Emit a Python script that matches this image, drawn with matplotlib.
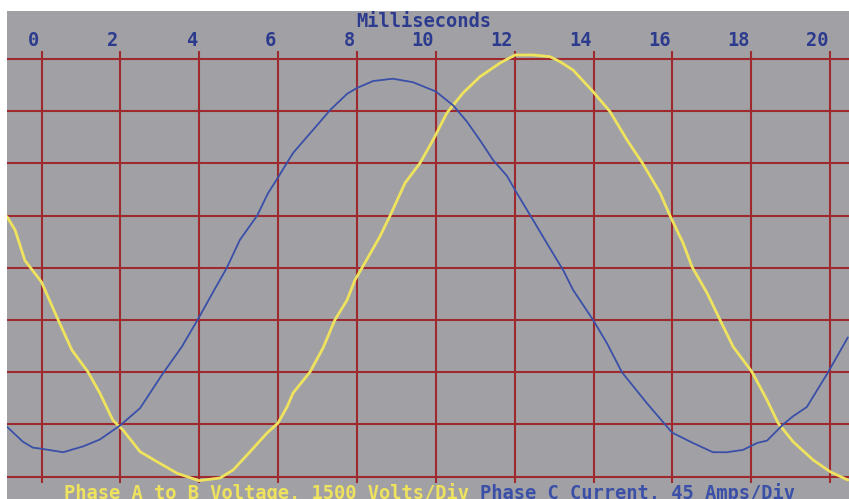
import matplotlib
matplotlib.use("Agg")
import matplotlib.pyplot as plt

# ---- data ----
current_ms = [-0.875, -0.47, -0.22, 0.0, 0.55, 1.05, 1.48, 1.99, 2.50, 3.08, 3.56, 3.99,
              4.35, 4.70, 5.03, 5.47, 5.74, 6.0, 6.38, 6.89, 7.32, 7.75, 8.0, 8.41, 8.91,
              9.42, 10.0, 10.44, 10.79, 11.12, 11.45, 11.81, 12.01, 12.47, 12.82, 13.23,
              13.48, 13.99, 14.34, 14.72, 15.36, 15.99, 16.52, 17.03, 17.38, 17.79, 18.15,
              18.40, 18.81, 19.06, 19.41, 19.95, 20.45]
current_amps = [-137, -150, -155, -156, -159, -154, -148, -136, -121, -91, -68, -43,
                -21, 0, 24, 45, 64, 78, 99, 119, 136, 150, 155, 161, 163,
                160, 152, 140, 126, 110, 93, 79, 67, 41, 21, -2,
                -19, -45, -65, -90, -117, -142, -151, -159, -159, -157, -151,
                -149, -135, -128, -120, -90, -60]

voltage_ms = [-0.875, -0.67, -0.42, 0.0, 0.39, 0.77, 1.18, 1.48, 1.81, 2.07, 2.50, 2.93,
              3.44, 3.99, 4.53, 4.86, 5.29, 5.72, 6.0, 6.23, 6.38, 6.81, 7.14, 7.44, 7.75,
              7.95, 8.13, 8.58, 8.84, 9.22, 9.60, 9.93, 10.28, 10.69, 11.12, 11.63, 12.01,
              12.47, 12.90, 13.15, 13.48, 13.99, 14.42, 14.85, 15.25, 15.69, 15.94, 16.27,
              16.50, 16.88, 17.21, 17.54, 18.02, 18.40, 18.68, 19.06, 19.57, 20.0, 20.45]
voltage_volts = [1470, 1086, 210, -408, -1414, -2362, -2994, -3600, -4379, -4667, -5284, -5572,
                 -5905, -6117, -6040, -5810, -5284, -4747, -4459, -3991, -3598, -2994, -2305, -1500, -925,
                 -351, 0, 894, 1497, 2437, 3011, 3672, 4448, 5023, 5491, 5885, 6115,
                 6115, 6066, 5922, 5684, 5060, 4486, 3672, 2991, 2149, 1497, 713,
                 23, -724, -1500, -2267, -2994, -3799, -4459, -4996, -5523, -5859, -6098]

tick_values = [0, 2, 4, 6, 8, 10, 12, 14, 16, 18, 20]
tick_labels = ["0", "2", "4", "6", "8", "10", "12", "14", "16", "18", "20"]
volts_per_div = 1500
amps_per_div = 45
n_div_half = 4
title = "Milliseconds"
label_v = "Phase A to B Voltage, 1500 Volts/Div"
label_i = "Phase C Current, 45 Amps/Div"

# ---- style ----
BG = "#a1a1a5"
GRID = "#9e2a30"
YEL = "#efe35e"
BLU = "#3a4fa8"
TXT = "#2c3b8e"
FONT = "DejaVu Sans Mono"

W, H = 849, 499
fig = plt.figure(figsize=(W / 100, H / 100), dpi=100, facecolor="white")

# axes covering the grey area (px 7..849 horizontally, 11..499 vertically)
ax = fig.add_axes([7 / W, 0, (W - 7) / W, (H - 11) / H])
ax.set_facecolor(BG)
for s in ax.spines.values():
    s.set_visible(False)
ax.set_xticks([])
ax.set_yticks([])

x0_px, px_per_ms = 41.5, 39.43
yc_px, px_per_div = 267.8, 52.2
xmin = (7 - x0_px) / px_per_ms
xmax = (W - x0_px) / px_per_ms
dtop = (yc_px - 11) / px_per_div
dbot = (yc_px - H) / px_per_div
ax.set_xlim(xmin, xmax)
ax.set_ylim(dbot * volts_per_div, dtop * volts_per_div)

# current on a twin axis with the same division scale
ax2 = ax.twinx()
ax2.set_ylim(dbot * amps_per_div, dtop * amps_per_div)
ax2.set_yticks([])
for s in ax2.spines.values():
    s.set_visible(False)
ax2.patch.set_visible(False)

# grid
for k in range(-n_div_half, n_div_half + 1):
    ax.axhline(k * volts_per_div, color=GRID, lw=1.5, zorder=1)
vtop = (yc_px - 51) / px_per_div * volts_per_div
vbot = (yc_px - 483) / px_per_div * volts_per_div
ax.vlines(tick_values, vbot, vtop, color=GRID, lw=1.5, zorder=1)

# traces
ax.plot(voltage_ms, voltage_volts, color=YEL, lw=2.0, zorder=4,
        solid_joinstyle="round", solid_capstyle="round")
ax2.plot(current_ms, current_amps, color=BLU, lw=1.3, zorder=3,
         solid_joinstyle="round", solid_capstyle="round")

# labels
lab_y = (yc_px - 46) / px_per_div * volts_per_div
for v, t in zip(tick_values, tick_labels):
    ax.text(v - 0.05, lab_y, t, ha="right", va="baseline", color=TXT,
            fontsize=13.5, family=FONT, fontweight="bold", clip_on=False)
ax.text((424 - x0_px) / px_per_ms, (yc_px - 27) / px_per_div * volts_per_div, title,
        ha="center", va="baseline", color=TXT, fontsize=13.5, family=FONT,
        fontweight="bold")

base_y = (yc_px - 499) / px_per_div * volts_per_div
ax.text((64 - x0_px) / px_per_ms, base_y, label_v, ha="left", va="baseline",
        color=YEL, fontsize=13.5, family=FONT, fontweight="bold", clip_on=False)
ax.text((480 - x0_px) / px_per_ms, base_y, label_i, ha="left", va="baseline",
        color=BLU, fontsize=13.5, family=FONT, fontweight="bold", clip_on=False)

fig.savefig("out.png", dpi=100, facecolor="white")
